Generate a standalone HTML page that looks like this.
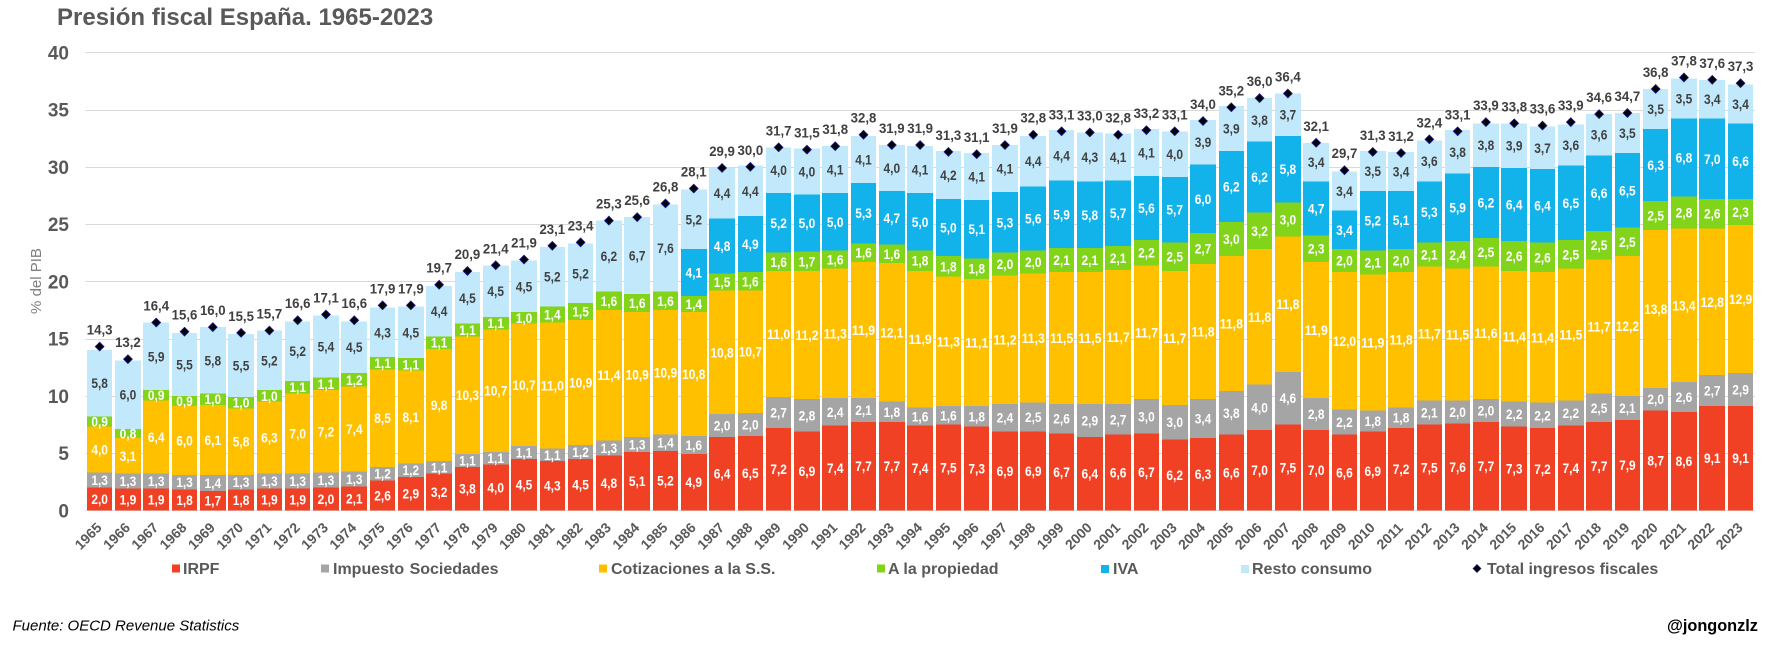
<!DOCTYPE html>
<html lang="es">
<head>
<meta charset="utf-8">
<title>Presión fiscal España. 1965-2023</title>
<style>
html,body{margin:0;padding:0;background:#fff;width:1772px;height:648px;overflow:hidden}
svg{display:block;font-family:"Liberation Sans",Arial,sans-serif}
</style>
</head>
<body>
<svg id="chart" xmlns="http://www.w3.org/2000/svg" width="1772" height="648" viewBox="0 0 1772 648">
  <text x="57" y="25" font-size="24" font-weight="700" fill="#595959">Presión fiscal España. 1965-2023</text>
  <text transform="translate(41,281) rotate(-90)" text-anchor="middle" font-size="15" fill="#7f7f7f">% del PIB</text>
  <g id="grid"></g>
  <g id="yticks"></g>
  <g id="bars"></g>
  <g id="xticks"></g>
  <g id="totals"></g>
  <g id="legend">
    <g>
      <rect x="172" y="564.5" width="8" height="8" fill="#f14124"/>
      <text x="183" y="574" font-size="16" font-weight="700" fill="#595959">IRPF</text>
    </g>
    <g>
      <rect x="321" y="564.5" width="8" height="8" fill="#a5a5a5"/>
      <text x="333" y="574" font-size="16" font-weight="700" fill="#595959" word-spacing="1">Impuesto Sociedades</text>
    </g>
    <g>
      <rect x="599" y="564.5" width="8" height="8" fill="#ffc000"/>
      <text x="611" y="574" font-size="16" font-weight="700" fill="#595959">Cotizaciones a la S.S.</text>
    </g>
    <g>
      <rect x="877" y="564.5" width="8" height="8" fill="#81d41a"/>
      <text x="888" y="574" font-size="16" font-weight="700" fill="#595959">A la propiedad</text>
    </g>
    <g>
      <rect x="1101" y="565" width="8" height="8" fill="#12b2ea"/>
      <text x="1113" y="574" font-size="16" font-weight="700" fill="#595959">IVA</text>
    </g>
    <g>
      <rect x="1241" y="565" width="8" height="8" fill="#c1e9fb"/>
      <text x="1252" y="574" font-size="16" font-weight="700" fill="#595959">Resto consumo</text>
    </g>
    <g>
      <polygon points="1477,564.5 1481,568.5 1477,572.5 1473,568.5" fill="#000" stroke="#1a1a9a" stroke-width="0.7"/>
      <text x="1487" y="574" font-size="16" font-weight="700" fill="#595959">Total ingresos fiscales</text>
    </g>
  </g>
  <text x="12.5" y="630.5" font-size="15" font-style="italic" fill="#000">Fuente: OECD Revenue Statistics</text>
  <text x="1667" y="631" font-size="16.3" font-weight="700" fill="#000">@jongonzlz</text>
</svg>
<script>
const years = [1965,1966,1967,1968,1969,1970,1971,1972,1973,1974,1975,1976,1977,1978,1979,1980,1981,1982,1983,1984,1985,1986,1987,1988,1989,1990,1991,1992,1993,1994,1995,1996,1997,1998,1999,2000,2001,2002,2003,2004,2005,2006,2007,2008,2009,2010,2011,2012,2013,2014,2015,2016,2017,2018,2019,2020,2021,2022,2023];
const irpf = [2.0,1.9,1.9,1.8,1.7,1.8,1.9,1.9,2.0,2.1,2.6,2.9,3.2,3.8,4.0,4.5,4.3,4.5,4.8,5.1,5.2,4.9,6.4,6.5,7.2,6.9,7.4,7.7,7.7,7.4,7.5,7.3,6.9,6.9,6.7,6.4,6.6,6.7,6.2,6.3,6.6,7.0,7.5,7.0,6.6,6.9,7.2,7.5,7.6,7.7,7.3,7.2,7.4,7.7,7.9,8.7,8.6,9.1,9.1];
const sociedades = [1.3,1.3,1.3,1.3,1.4,1.3,1.3,1.3,1.3,1.3,1.2,1.2,1.1,1.1,1.1,1.1,1.1,1.2,1.3,1.3,1.4,1.6,2.0,2.0,2.7,2.8,2.4,2.1,1.8,1.6,1.6,1.8,2.4,2.5,2.6,2.9,2.7,3.0,3.0,3.4,3.8,4.0,4.6,2.8,2.2,1.8,1.8,2.1,2.0,2.0,2.2,2.2,2.2,2.5,2.1,2.0,2.6,2.7,2.9];
const cotizaciones = [4.0,3.1,6.4,6.0,6.1,5.8,6.3,7.0,7.2,7.4,8.5,8.1,9.8,10.3,10.7,10.7,11.0,10.9,11.4,10.9,10.9,10.8,10.8,10.7,11.0,11.2,11.3,11.9,12.1,11.9,11.3,11.1,11.2,11.3,11.5,11.5,11.7,11.7,11.7,11.8,11.8,11.8,11.8,11.9,12.0,11.9,11.8,11.7,11.5,11.6,11.4,11.4,11.5,11.7,12.2,13.8,13.4,12.8,12.9];
const propiedad = [0.9,0.8,0.9,0.9,1.0,1.0,1.0,1.1,1.1,1.2,1.1,1.1,1.1,1.1,1.1,1.0,1.4,1.5,1.6,1.6,1.6,1.4,1.5,1.6,1.6,1.7,1.6,1.6,1.6,1.8,1.8,1.8,2.0,2.0,2.1,2.1,2.1,2.2,2.5,2.7,3.0,3.2,3.0,2.3,2.0,2.1,2.0,2.1,2.4,2.5,2.6,2.6,2.5,2.5,2.5,2.5,2.8,2.6,2.3];
const iva = [0,0,0,0,0,0,0,0,0,0,0,0,0,0,0,0,0,0,0,0,0,4.1,4.8,4.9,5.2,5.0,5.0,5.3,4.7,5.0,5.0,5.1,5.3,5.6,5.9,5.8,5.7,5.6,5.7,6.0,6.2,6.2,5.8,4.7,3.4,5.2,5.1,5.3,5.9,6.2,6.4,6.4,6.5,6.6,6.5,6.3,6.8,7.0,6.6];
const resto = [5.8,6.0,5.9,5.5,5.8,5.5,5.2,5.2,5.4,4.5,4.3,4.5,4.4,4.5,4.5,4.5,5.2,5.2,6.2,6.7,7.6,5.2,4.4,4.4,4.0,4.0,4.1,4.1,4.0,4.1,4.2,4.1,4.1,4.4,4.4,4.3,4.1,4.1,4.0,3.9,3.9,3.8,3.7,3.4,3.4,3.5,3.4,3.6,3.8,3.8,3.9,3.7,3.6,3.6,3.5,3.5,3.5,3.4,3.4];
const total = [14.3,13.2,16.4,15.6,16.0,15.5,15.7,16.6,17.1,16.6,17.9,17.9,19.7,20.9,21.4,21.9,23.1,23.4,25.3,25.6,26.8,28.1,29.9,30.0,31.7,31.5,31.8,32.8,31.9,31.9,31.3,31.1,31.9,32.8,33.1,33.0,32.8,33.2,33.1,34.0,35.2,36.0,36.4,32.1,29.7,31.3,31.2,32.4,33.1,33.9,33.8,33.6,33.9,34.6,34.7,36.8,37.8,37.6,37.3];
const yTicks = [0,5,10,15,20,25,30,35,40];

const NS = 'http://www.w3.org/2000/svg';
const plotLeft = 85.5, plotRight = 1754.7, plotBottom = 510.3, plotTop = 52.3, yMax = 40;
const band = (plotRight - plotLeft) / years.length;
const barWidth = band * 0.905;
function xCenter(i) { return plotLeft + band * (i + 0.5); }
function yScale(v) { return plotBottom - (v / yMax) * (plotBottom - plotTop); }
function fmt(v) { return v.toFixed(1).replace('.', ','); }
function make(tag, parent) {
  const el = document.createElementNS(NS, tag);
  parent.appendChild(el);
  return el;
}

const series = [
  { key: 'irpf', values: irpf, color: '#f14124', text: '#ffffff' },
  { key: 'sociedades', values: sociedades, color: '#a5a5a5', text: '#ffffff' },
  { key: 'cotizaciones', values: cotizaciones, color: '#ffc000', text: '#ffffff' },
  { key: 'propiedad', values: propiedad, color: '#81d41a', text: '#ffffff' },
  { key: 'iva', values: iva, color: '#12b2ea', text: '#ffffff' },
  { key: 'resto', values: resto, color: '#c1e9fb', text: '#404040' }
];

const gridG = document.getElementById('grid');
const yG = document.getElementById('yticks');
yTicks.forEach(function (t) {
  const y = Math.round(yScale(t)) + 0.5;
  const line = make('line', gridG);
  
  
  line.setAttribute('x1', plotLeft);
  line.setAttribute('x2', plotRight);
  line.setAttribute('y1', y);
  line.setAttribute('y2', y);
  line.setAttribute('stroke', '#d9d9d9');
  line.setAttribute('stroke-width', '1');
  const label = make('text', yG);
  
  
  label.setAttribute('x', 69);
  label.setAttribute('y', yScale(t) + 7);
  label.setAttribute('text-anchor', 'end');
  label.setAttribute('font-size', '19');
  label.setAttribute('font-weight', '700');
  label.setAttribute('fill', '#595959');
  label.textContent = t;
});

const barsG = document.getElementById('bars');
const xG = document.getElementById('xticks');
const totalsG = document.getElementById('totals');
const labelQueue = [];
years.forEach(function (yr, i) {
  const cx = xCenter(i);
  const left = Math.round(cx - barWidth / 2);
  const right = Math.round(cx + barWidth / 2);
  let base = 0;
  series.forEach(function (s) {
    const v = s.values[i];
    if (!v) return;
    const y0 = yScale(base);
    const y1 = yScale(base + v);
    const rect = make('rect', barsG);
    
    
    rect.setAttribute('x', left);
    rect.setAttribute('y', y1);
    rect.setAttribute('width', right - left);
    rect.setAttribute('height', y0 - y1);
    rect.setAttribute('fill', s.color);
    rect.setAttribute('shape-rendering', 'crispEdges');
    labelQueue.push({ x: cx, y: (y0 + y1) / 2, text: fmt(v), color: s.text });
    base += v;
  });

  const tick = make('text', xG);
  
  
  tick.setAttribute('transform', 'translate(' + (cx - 11.5) + ',536) rotate(-45)');
  tick.setAttribute('text-anchor', 'middle');
  tick.setAttribute('dominant-baseline', 'central');
  tick.setAttribute('font-size', '14');
  tick.setAttribute('font-weight', '700');
  tick.setAttribute('fill', '#595959');
  tick.textContent = yr;

  const my = yScale(total[i]);
  const marker = make('polygon', totalsG);
  
  
  marker.setAttribute('points', [cx, my - 4.4, cx + 4.4, my, cx, my + 4.4, cx - 4.4, my].join(' '));
  marker.setAttribute('fill', '#000000');
  marker.setAttribute('stroke', '#1a1a9a');
  marker.setAttribute('stroke-width', '0.8');

  const tl = make('text', totalsG);
  
  
  tl.setAttribute('x', cx);
  tl.setAttribute('y', my - 12);
  tl.setAttribute('text-anchor', 'middle');
  tl.setAttribute('font-size', '14');
  tl.setAttribute('font-weight', '700');
  tl.setAttribute('fill', '#404040');
  tl.setAttribute('textLength', '25.7');
  tl.setAttribute('lengthAdjust', 'spacingAndGlyphs');
  tl.textContent = fmt(total[i]);
});

labelQueue.forEach(function (l) {
  const t = make('text', barsG);
  
  
  t.setAttribute('x', l.x);
  t.setAttribute('y', l.y + 5);
  t.setAttribute('text-anchor', 'middle');
  t.setAttribute('font-size', '13.5');
  t.setAttribute('font-weight', '700');
  t.setAttribute('fill', l.color);
  t.setAttribute('textLength', l.text.length > 3 ? '23.2' : '16.6');
  t.setAttribute('lengthAdjust', 'spacingAndGlyphs');
  t.textContent = l.text;
});
</script>
</body>
</html>
